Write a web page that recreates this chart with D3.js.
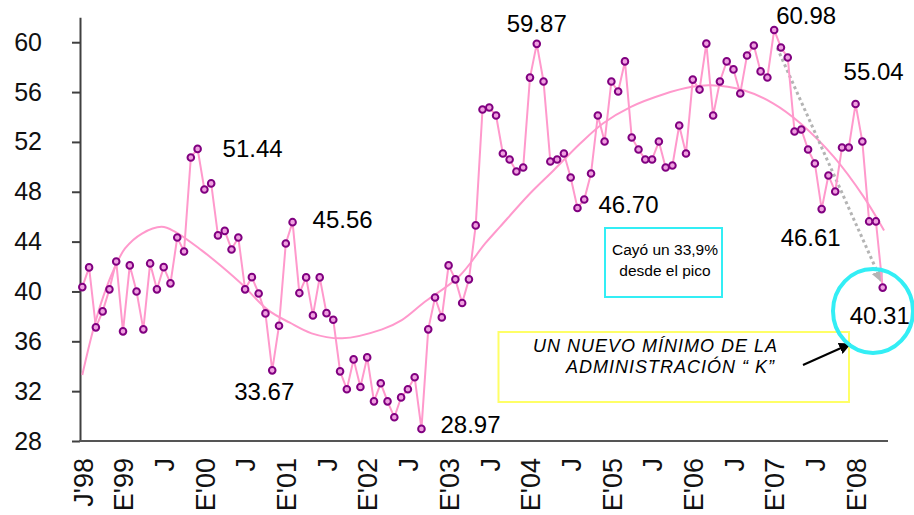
<!DOCTYPE html>
<html>
<head>
<meta charset="utf-8">
<script src="https://cdn.jsdelivr.net/npm/d3@7"></script>
<style>
  body { margin: 0; background: #fff; }
  svg { font-family: "Liberation Sans", Arial, sans-serif; }
</style>
</head>
<body>
<svg id="chart" width="914" height="515"></svg>
<script>
// monthly values, July 1998 .. May 2008
const approval = [
  40.35, 41.93, 37.12, 38.40, 40.17, 42.41, 36.80, 42.09, 40.00, 36.96,
  42.25, 40.17, 41.95, 40.65, 44.33, 43.21, 50.75, 51.44, 48.18, 48.67,
  44.50, 44.86, 43.37, 44.33, 40.17, 41.15, 39.84, 38.24, 33.67, 37.25,
  43.85, 45.56, 39.87, 41.13, 38.08, 41.13, 38.26, 37.73, 33.59, 32.15,
  34.55, 32.33, 34.71, 31.18, 32.63, 31.18, 29.90, 31.50, 32.15, 33.11,
  28.97, 36.96, 39.52, 37.92, 42.09, 40.97, 39.07, 40.97, 45.30, 54.60,
  54.76, 54.12, 51.07, 50.59, 49.63, 49.95, 57.16, 59.87, 56.85, 50.43,
  50.59, 51.07, 49.15, 46.70, 47.38, 49.47, 54.12, 52.03, 56.85, 56.05,
  58.46, 52.35, 51.39, 50.59, 50.59, 52.03, 49.95, 50.11, 53.32, 51.07,
  57.00, 56.20, 59.89, 54.12, 56.85, 58.46, 57.82, 55.89, 58.94, 59.74,
  57.66, 57.17, 60.98, 59.58, 58.78, 52.84, 53.00, 51.39, 50.27, 46.61,
  49.31, 48.02, 51.55, 51.55, 55.04, 52.03, 45.62, 45.62, 40.31
];

// trend line (month index, value)
const trendIdx = [0, 1.6, 3.1, 4.6, 6.3, 8.8, 11.7, 13.7, 17.6, 20.6, 23.5, 27.4, 30.6, 33.8, 38.3, 44.2, 47.1, 50.5, 55.5, 59.4,
                  61.6, 66, 69.5, 73.4, 76.8, 80.8, 85.7, 89.9, 92.6, 97.5, 101.9, 105.9, 110.8, 115.2, 118.2];
const trendVal = [33.3, 36.9, 39.6, 41.7, 43.45, 44.65, 45.19, 44.79, 43.3, 41.98, 40.59, 38.5, 37.49, 36.64, 36.24, 36.96, 37.7, 39.17, 41.18, 43.85,
                  45.2, 47.86, 49.73, 51.87, 53.5, 54.8, 55.83, 56.42, 56.55, 56.15, 55.08, 53.48, 50.8, 47.59, 44.9];

const xLabels = ["J'98", "E'99", "J", "E'00", "J", "E'01", "J", "E'02", "J", "E'03",
                 "J", "E'04", "J", "E'05", "J", "E'06", "J", "E'07", "J", "E'08"];
const yTicks = [28, 32, 36, 40, 44, 48, 52, 56, 60];

const peakIdx = [17, 31, 28, 50, 67, 73, 102, 109, 114, 118];

const svg = d3.select('#chart');
const pink = "#ff99cc";

const xScale = d3.scaleLinear().domain([0, approval.length - 1]).range([82.3, 882.7]);
const yScale = d3.scaleLinear().domain([28, 62]).range([441, 17.3]);

// y axis
const yAxis = svg.append('g').attr('transform', 'translate(80,0)')
    .call(d3.axisLeft(yScale).tickValues(yTicks).tickSize(8).tickPadding(30).tickSizeOuter(0));
yAxis.select('.domain').attr('stroke', '#404040').attr('stroke-width', 2);
yAxis.selectAll('.tick line').attr('stroke', '#404040').attr('stroke-width', 2);
yAxis.selectAll('.tick text')
    .attr('font-size', 25)
    .attr('fill', '#111')
    .attr('font-family', '"Liberation Sans", Arial, sans-serif');

// x axis
const xAxis = svg.append('g').attr('transform', 'translate(0,441)')
    .call(d3.axisBottom(xScale)
        .tickValues(xLabels.map((d, i) => i * 6))
        .tickFormat((d, i) => xLabels[i])
        .tickSize(0));
xAxis.select('.domain').remove();
xAxis.append('line')
    .attr('x1', 79).attr('x2', 888)
    .attr('stroke', '#555').attr('stroke-width', 2);
xAxis.selectAll('.tick text')
    .attr('font-size', 27)
    .attr('fill', '#111')
    .attr('font-family', '"Liberation Sans", Arial, sans-serif')
    .attr('text-anchor', 'end')
    .attr('transform', 'rotate(-90)')
    .attr('x', -17)
    .attr('y', 0)
    .attr('dy', '0.36em');

// trend
const trend = trendIdx.map((d, i) => [d, trendVal[i]]);
svg.append('path')
    .datum(trend)
    .attr('fill', 'none')
    .attr('stroke', pink)
    .attr('stroke-width', 2)
    .attr('d', d3.line()
        .x(d => xScale(d[0]))
        .y(d => yScale(d[1]))
        .curve(d3.curveCatmullRom));

// defs for arrows
const defs = svg.append('defs');
defs.append('marker').attr('id', 'grayHead')
    .attr('viewBox', '0 0 10 10').attr('refX', 9).attr('refY', 5)
    .attr('markerWidth', 4).attr('markerHeight', 4).attr('orient', 'auto')
    .append('path').attr('d', 'M0,0 L10,5 L0,10 z').attr('fill', '#b4b4b4');
defs.append('marker').attr('id', 'blackHead')
    .attr('viewBox', '0 0 10 10').attr('refX', 9).attr('refY', 5)
    .attr('markerWidth', 6).attr('markerHeight', 6).attr('orient', 'auto')
    .append('path').attr('d', 'M0,0 L10,5 L0,10 z').attr('fill', '#000');

// gray dotted arrow from the peak down to the last point
svg.append('line')
    .attr('x1', xScale(102) + 3).attr('y1', yScale(approval[102]) + 18)
    .attr('x2', xScale(118) - 1).attr('y2', yScale(approval[118]) - 6)
    .attr('stroke', '#b4b4b4')
    .attr('stroke-width', 3)
    .attr('stroke-dasharray', '3,3')
    .attr('marker-end', 'url(#grayHead)');

// data line
svg.append('path')
    .datum(approval)
    .attr('fill', 'none')
    .attr('stroke', pink)
    .attr('stroke-width', 2)
    .attr('d', d3.line()
        .x((d, i) => xScale(i))
        .y(d => yScale(d)));

svg.selectAll('.pt')
    .data(approval)
    .enter()
    .append('circle')
    .classed('pt', true)
    .attr('cx', (d, i) => xScale(i))
    .attr('cy', d => yScale(d))
    .attr('r', 3.3)
    .attr('fill', '#f0a0e0')
    .attr('stroke', '#800080')
    .attr('stroke-width', 2);

// peak / valley labels
const labelOffset = {17: [25, 8], 31: [20, 6], 28: [-38, 30], 50: [19, 4], 67: [-30, -12],
                     73: [21, 5], 102: [2, -6], 109: [-41, 37], 114: [-12, -24], 118: [-33, 36]};
svg.selectAll('.peak')
    .data(peakIdx)
    .enter()
    .append('text')
    .classed('peak', true)
    .attr('x', d => xScale(d) + labelOffset[d][0])
    .attr('y', d => yScale(approval[d]) + labelOffset[d][1])
    .attr('font-size', 24)
    .attr('fill', '#000')
    .text(d => approval[d].toFixed(2));

// cyan box
svg.append('rect')
    .attr('x', 605).attr('y', 228).attr('width', 117).attr('height', 69)
    .attr('fill', 'none').attr('stroke', '#33eef5').attr('stroke-width', 2);
svg.append('text')
    .attr('x', 665).attr('y', 255)
    .attr('text-anchor', 'middle').attr('font-size', 15.5)
    .text('Cayó un 33,9%');
svg.append('text')
    .attr('x', 665).attr('y', 276)
    .attr('text-anchor', 'middle').attr('font-size', 15.5)
    .text('desde el pico');

// yellow box
svg.append('rect')
    .attr('x', 498.5).attr('y', 332).attr('width', 350.5).attr('height', 70)
    .attr('fill', 'none').attr('stroke', '#ffff66').attr('stroke-width', 2);
svg.append('text')
    .attr('x', 778).attr('y', 352)
    .attr('text-anchor', 'end').attr('font-size', 18).attr('font-style', 'italic')
    .attr('letter-spacing', 1)
    .text('UN NUEVO MÍNIMO DE LA');
svg.append('text')
    .attr('x', 775).attr('y', 373)
    .attr('text-anchor', 'end').attr('font-size', 18).attr('font-style', 'italic')
    .attr('letter-spacing', 1)
    .text('ADMINISTRACIÓN “  K”');

// black arrow towards the circle
svg.append('line')
    .attr('x1', 803).attr('y1', 365)
    .attr('x2', 850).attr('y2', 344)
    .attr('stroke', '#000').attr('stroke-width', 2)
    .attr('marker-end', 'url(#blackHead)');

// cyan circle around the last value
svg.append('ellipse')
    .attr('cx', 873).attr('cy', 311).attr('rx', 40).attr('ry', 42)
    .attr('fill', 'none').attr('stroke', '#33eef5').attr('stroke-width', 4);
</script>
</body>
</html>
